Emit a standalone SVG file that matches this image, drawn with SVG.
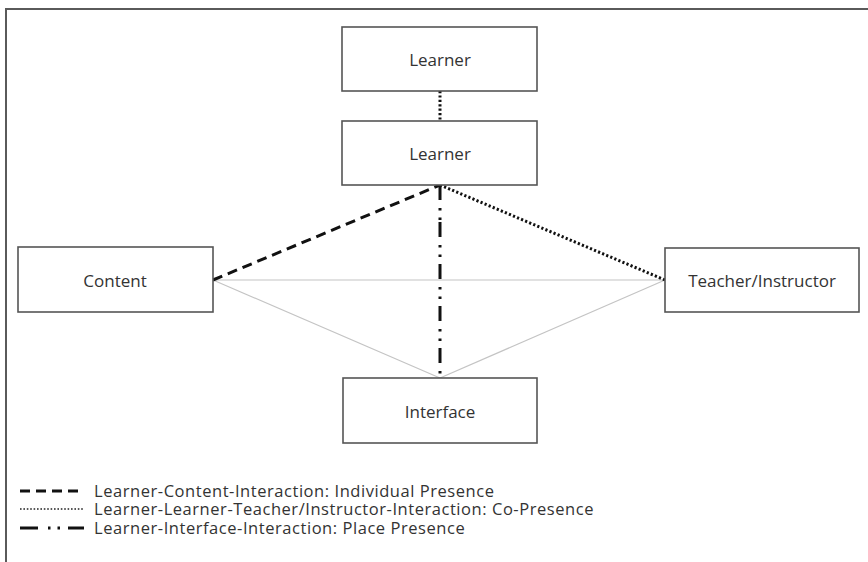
<svg xmlns="http://www.w3.org/2000/svg" width="868" height="562" viewBox="0 0 868 562">
  <style>
    .frame { stroke: #5a5a5a; stroke-width: 2; fill: none; }
    .box { fill: #ffffff; stroke: #555555; stroke-width: 1.6; }
    .label { font-family: "Open Sans", "Liberation Sans", sans-serif; font-size: 17px; fill: #333333; text-anchor: middle; dominant-baseline: central; }
    .legend-text { font-family: "Open Sans", "Liberation Sans", sans-serif; font-size: 16.5px; letter-spacing: 0.55px; fill: #333333; dominant-baseline: central; }
    .thin { stroke: #c4c4c4; stroke-width: 1.2; fill: none; }
    .dashed { stroke: #111111; stroke-width: 3; fill: none; stroke-dasharray: 10 6; }
    .dotted { stroke: #111111; stroke-width: 3; fill: none; stroke-dasharray: 2.2 2.2; }
    .dashdot { stroke: #111111; stroke-width: 3; fill: none; stroke-dasharray: 15 8 2.5 7 2.5 7; }
  </style>

  <!-- partial frame: top and left edges -->
  <path class="frame" d="M6 562 V9 H868"/>

  <!-- connectors -->
  <g id="connectors">
    <line class="thin" x1="213" y1="280" x2="665" y2="280"/>
    <line class="thin" x1="213" y1="280" x2="440" y2="378"/>
    <line class="thin" x1="665" y1="280" x2="440" y2="378"/>
    <line class="dotted" x1="440" y1="91" x2="440" y2="121"/>
    <line class="dashed" x1="213" y1="280" x2="440" y2="185"/>
    <line class="dotted" x1="440" y1="185" x2="665" y2="280"/>
    <line class="dashdot" x1="440" y1="222" x2="440" y2="378"/>
    <line class="dashdot" x1="440" y1="185" x2="440" y2="222" stroke-dasharray="0 4 2.5 7 2.5 7 2.5 7 2.5 100"/>
  </g>

  <g id="learner-top">
    <rect class="box" x="342" y="27" width="195" height="64"/>
    <text class="label" x="440" y="59">Learner</text>
  </g>
  <g id="learner">
    <rect class="box" x="342" y="121" width="195" height="64"/>
    <text class="label" x="440" y="153">Learner</text>
  </g>
  <g id="content">
    <rect class="box" x="18" y="247" width="195" height="65"/>
    <text class="label" x="115" y="280">Content</text>
  </g>
  <g id="teacher">
    <rect class="box" x="665" y="248" width="194" height="64"/>
    <text class="label" x="762" y="280">Teacher/Instructor</text>
  </g>
  <g id="interface">
    <rect class="box" x="343" y="378" width="194" height="65"/>
    <text class="label" x="440" y="411">Interface</text>
  </g>

  <!-- legend -->
  <g id="legend">
    <line class="dashed" x1="20" y1="491" x2="84" y2="491" stroke-dasharray="11 6.5"/>
    <text class="legend-text" x="94" y="490">Learner-Content-Interaction: Individual Presence</text>
    <line x1="20" y1="509" x2="84" y2="509" stroke="#222222" stroke-width="1.6" stroke-dasharray="1.6 1.8"/>
    <text class="legend-text" x="94" y="508.5">Learner-Learner-Teacher/Instructor-Interaction: Co-Presence</text>
    <line x1="20" y1="528" x2="84" y2="528" stroke="#111111" stroke-width="3" stroke-dasharray="18 10 2.5 7 2.5 8 20"/>
    <text class="legend-text" x="94" y="527">Learner-Interface-Interaction: Place Presence</text>
  </g>
</svg>
